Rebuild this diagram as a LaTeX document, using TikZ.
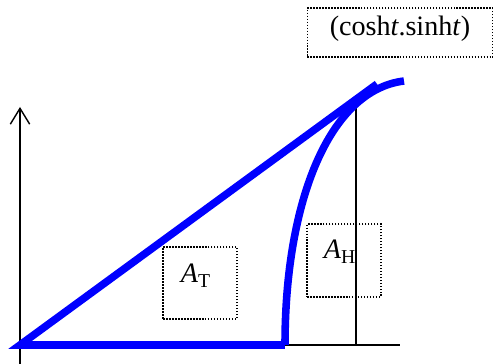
\documentclass[tikz,border=0pt]{standalone}
\usepackage{fontspec}
\setmainfont{Liberation Serif}
\usetikzlibrary{positioning,calc,arrows.meta}
\definecolor{hblue}{HTML}{0000FF}

\begin{document}
\begin{tikzpicture}[x=0.02cm, y=-0.02cm,
  axisline/.style={line width=0.8pt, draw=black},
  bluepath/.style={line width=4.3pt, draw=hblue},
  labelbox/.style={draw=black, line width=0.9pt, dash pattern=on 0.9pt off 0.8pt, inner sep=0pt},
  labeltext/.style={inner sep=0pt, font=\fontsize{16}{18}\selectfont},
]
\useasboundingbox (0,0) rectangle (495,364);
% axes
\coordinate (O) at (20,345);
\coordinate (ytop) at (20,107);
\coordinate (ybot) at (20,364);
\coordinate (xend) at (400,345);
\coordinate (A) at (285,345);
\coordinate (P) at (377,84);
\coordinate (Q) at (404,81);
\coordinate (foot) at (356,345);
\coordinate (Ptop) at (356,104);
\draw[axisline, -{Straight Barb[length=9pt, width=11pt, line width=0.8pt]}] (ybot) -- (ytop);
\draw[axisline] (O) -- (xend);
\draw[axisline] (foot) -- (Ptop);
% triangle and hyperbola arc
\draw[bluepath, line join=miter] (A) -- (O) -- (P);
\draw[bluepath] (A) .. controls (285,200) and (330,90) .. (Q);
% labels
\node[labelbox, minimum width=105.5pt, minimum height=27.8pt] (ptbox) at (400,32.5) {};
\node[labeltext] (ptlab) at (400,29) {(cosh\textit{t}.sinh\textit{t})};
\node[labelbox, minimum width=42pt, minimum height=41pt] (AT) at (200,283) {};
\node[labeltext] (ATlab) at (196,276) {\textit{A}\textsubscript{T}};
\node[labelbox, minimum width=42pt, minimum height=41.5pt] (AH) at (344,260.5) {};
\node[labeltext] (AHlab) at (340,252) {\textit{A}\textsubscript{H}};
\end{tikzpicture}
\end{document}
